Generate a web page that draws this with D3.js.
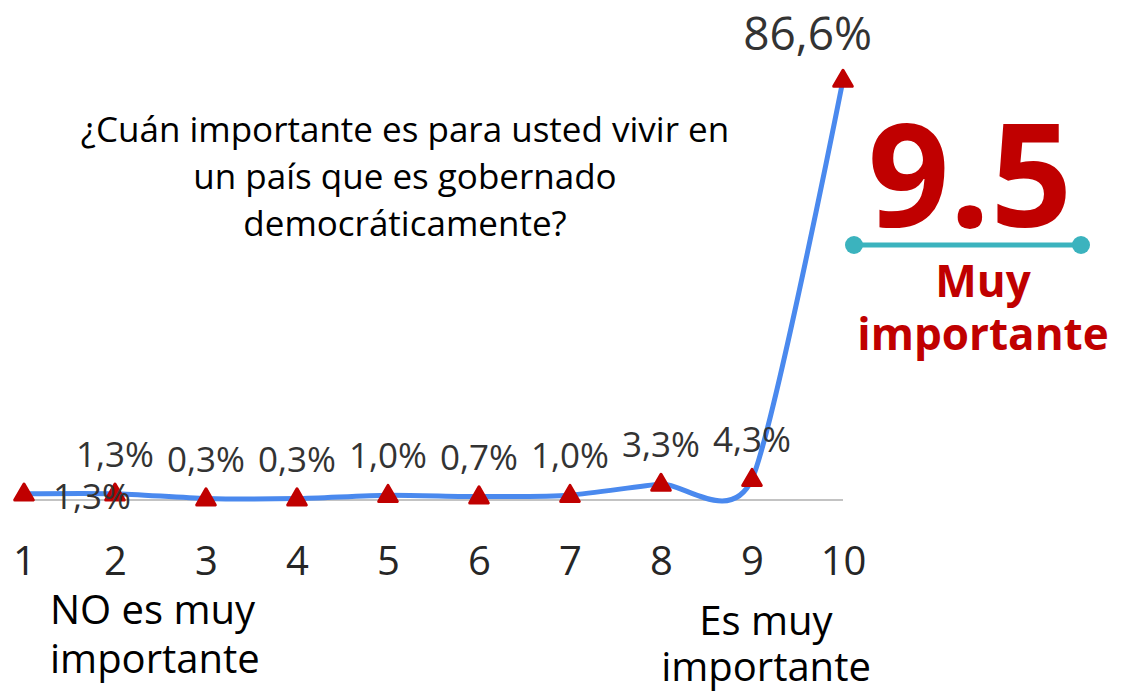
<!DOCTYPE html>
<html>
<head>
<meta charset="utf-8">
<script src="https://cdn.jsdelivr.net/npm/d3@7"></script>
<style>
  html, body { margin: 0; padding: 0; background: #fff; }
  svg { display: block; }
  text { font-family: "Open Sans", "Noto Sans", sans-serif; }
</style>
</head>
<body>
<svg id="chart" width="1130" height="692"></svg>
<script>
// Escala 1–10: porcentaje de respuestas
const categories = [1, 2, 3, 4, 5, 6, 7, 8, 9, 10];
const values = [1.3, 1.3, 0.3, 0.3, 1.0, 0.7, 1.0, 3.3, 4.3, 86.6];
const valueLabels = ["1,3%", "1,3%", "0,3%", "0,3%", "1,0%", "0,7%", "1,0%", "3,3%", "4,3%", "86,6%"];
const questionLines = ["¿Cuán importante es para usted vivir en", "un país que es gobernado", "democráticamente?"];
const lowLabel = ["NO es muy", "importante"];
const highLabel = ["Es muy", "importante"];
const average = "9.5";
const averageLabel = ["Muy", "importante"];

const svg = d3.select("#chart");
const red = "#C00000";

const x = d3.scalePoint().domain(categories).range([24, 843]);
const y = d3.scaleLinear().domain([0, 100]).range([500, 15]);

// Eje horizontal
const axis = d3.axisBottom(x).tickSize(0).tickPadding(47);
const gAxis = svg.append("g").attr("transform", `translate(0,${y(0)})`).call(axis);
gAxis.select(".domain").attr("stroke", "#c3c3c3").attr("stroke-width", 2)
  .attr("d", `M15,0H${x(10)}`);
gAxis.selectAll(".tick text")
  .attr("fill", "#262626")
  .attr("font-size", 40)
  .attr("font-family", "'Open Sans', sans-serif");

// Curva suavizada
const line = d3.line()
  .x((d, i) => x(categories[i]))
  .y(d => y(d))
  .curve(d3.curveCardinal.tension(0.3));

svg.append("path")
  .datum(values)
  .attr("d", line)
  .attr("fill", "none")
  .attr("stroke", "#4A89EE")
  .attr("stroke-width", 5)
  .attr("stroke-linecap", "round");

// Marcadores triangulares
const tri = d3.symbol().type(d3.symbolTriangle).size(150);
svg.append("g").selectAll("path")
  .data(values)
  .join("path")
  .attr("d", tri)
  .attr("transform", (d, i) => `translate(${x(categories[i])},${y(d) + 1})`)
  .attr("fill", red)
  .attr("stroke", red)
  .attr("stroke-width", 3)
  .attr("stroke-linejoin", "round");

// Etiquetas de datos
const labelRight = 872;
svg.append("g").selectAll("text")
  .data(values)
  .join("text")
  .text((d, i) => valueLabels[i])
  .attr("fill", "#333")
  .attr("font-size", (d, i) => i === values.length - 1 ? 46 : 35)
  .attr("text-anchor", (d, i) => i === values.length - 1 ? "end" : "middle")
  .attr("x", (d, i) => {
    if (i === 0) return x(categories[i]) + 68;
    if (i === values.length - 1) return labelRight;
    return x(categories[i]);
  })
  .attr("y", (d, i) => {
    if (i === 0) return y(d) + 15;
    if (i === values.length - 1) return y(d) - 30;
    return y(d) - 27;
  });

// Pregunta
svg.append("text")
  .attr("text-anchor", "middle")
  .attr("font-size", 35)
  .attr("fill", "#000")
  .selectAll("tspan")
  .data(questionLines)
  .join("tspan")
  .attr("x", 405)
  .attr("y", (d, i) => 142 + i * 47)
  .text(d => d);

// Extremos de la escala
svg.append("text")
  .attr("font-size", 40)
  .attr("fill", "#000")
  .selectAll("tspan")
  .data(lowLabel)
  .join("tspan")
  .attr("x", 50)
  .attr("y", (d, i) => 624 + i * 49)
  .text(d => d);

svg.append("text")
  .attr("font-size", 40)
  .attr("fill", "#000")
  .attr("text-anchor", "middle")
  .selectAll("tspan")
  .data(highLabel)
  .join("tspan")
  .attr("x", 766)
  .attr("y", (d, i) => 635 + i * 46)
  .text(d => d);

// Promedio
svg.append("text")
  .attr("x", 970)
  .attr("y", 227)
  .attr("text-anchor", "middle")
  .attr("font-family", "Lato, 'DejaVu Sans', sans-serif")
  .attr("font-weight", 700)
  .attr("font-size", 143)
  .attr("fill", red)
  .text(average);

svg.append("line")
  .attr("x1", 854).attr("x2", 1081)
  .attr("y1", 245).attr("y2", 245)
  .attr("stroke", "#3BB3BE").attr("stroke-width", 5);
svg.selectAll("circle.end")
  .data([854, 1081])
  .join("circle")
  .attr("cx", d => d).attr("cy", 245).attr("r", 9)
  .attr("fill", "#3BB3BE");

svg.append("text")
  .attr("text-anchor", "middle")
  .attr("font-family", "Lato, 'DejaVu Sans', sans-serif")
  .attr("font-weight", 700)
  .attr("font-size", 44)
  .attr("fill", red)
  .selectAll("tspan")
  .data(averageLabel)
  .join("tspan")
  .attr("x", 983)
  .attr("y", (d, i) => 297 + i * 53)
  .text(d => d);
</script>
</body>
</html>
